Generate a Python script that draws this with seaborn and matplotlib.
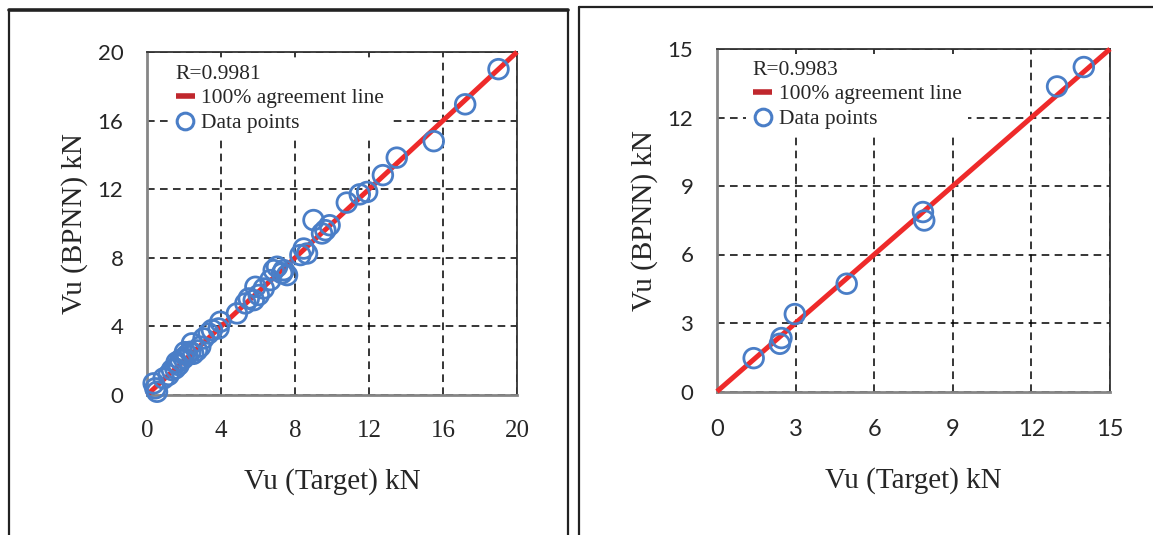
import matplotlib
matplotlib.use("Agg")
import matplotlib.pyplot as plt
import seaborn as sns
import pandas as pd
from matplotlib.lines import Line2D

# ---------------- Data ----------------
left_target = [19.0, 17.2, 15.5, 13.5, 12.75, 11.9, 11.5, 10.8, 9.0, 9.87, 9.64, 9.46,
               8.47, 8.29, 8.65, 7.03, 7.39, 7.57, 7.3, 6.67, 6.85, 6.31, 5.86, 6.04,
               5.77, 5.5, 5.32, 4.86, 3.96, 3.87, 3.51, 3.33, 3.06, 2.88, 2.43, 2.34,
               2.16, 1.98, 1.8, 1.71, 1.53, 1.35, 1.17, 0.9, 0.36, 0.45, 0.54, 2.7,
               2.5, 2.05, 1.6]
left_bpnn = [19.0, 16.95, 14.8, 13.84, 12.82, 11.84, 11.7, 11.22, 10.2, 9.9, 9.61, 9.42,
             8.54, 8.16, 8.25, 7.48, 7.28, 6.99, 7.1, 6.7, 7.28, 6.21, 6.31, 5.83,
             5.53, 5.63, 5.34, 4.76, 4.27, 3.88, 3.79, 3.59, 3.3, 2.82, 3.01, 2.52,
             2.33, 2.14, 2.04, 1.75, 1.55, 1.46, 1.17, 0.97, 0.68, 0.39, 0.19, 2.6,
             2.4, 2.5, 1.9]
left_r = "R=0.9981"
left_ticks = [0, 4, 8, 12, 16, 20]

right_target = [14.0, 12.98, 7.86, 7.91, 4.95, 2.97, 2.46, 2.4, 1.4]
right_bpnn = [14.21, 13.36, 7.86, 7.49, 4.72, 3.39, 2.34, 2.09, 1.46]
right_r = "R=0.9983"
right_ticks = [0, 3, 6, 9, 12, 15]

x_label = "Vu (Target) kN"
y_label = "Vu (BPNN) kN"

# ---------------- Style ----------------
sns.set_style("white")
plt.rcParams['font.family'] = ['Liberation Serif', 'DejaVu Serif']

BLUE = "#4A7EC7"
RED = "#EE2A2A"
DARK_RED = "#C0272D"
GREY = "#868686"

fig = plt.figure(figsize=(11.53, 5.35), dpi=100)

# panel frames (figure fractions)
W, H = 1153.0, 535.0
def fx(px):
    return px / W
def fy(py):
    return 1 - py / H

for xs, ys, lw in [([9, 568], [10, 10], 2.6), ([9, 9], [10, 540], 1.6), ([568, 568], [10, 540], 1.6),
                   ([579, 1160], [7, 7], 1.6), ([579, 579], [7, 540], 1.6)]:
    fig.add_artist(Line2D([fx(v) for v in xs], [fy(v) for v in ys], color="#222222",
                          lw=lw, transform=fig.transFigure))

ax1 = fig.add_axes([fx(147), fy(395), fx(517) - fx(147), fy(52) - fy(395)])
ax2 = fig.add_axes([fx(717), fy(391.5), fx(1110) - fx(717), fy(49) - fy(391.5)])

panels = [
    (ax1, left_target, left_bpnn, left_ticks, left_r, 'serif', (0.06, 0.982)),
    (ax2, right_target, right_bpnn, right_ticks, right_r, 'sans', (0.075, 0.985)),
]

for ax, tx, ty, ticks, rtxt, xfont, anchor in panels:
    df = pd.DataFrame({"target": tx, "bpnn": ty})
    lim = [ticks[0], ticks[-1]]
    ax.plot(lim, lim, color=RED, lw=3.6, solid_capstyle='butt', clip_on=False, zorder=3)
    sns.scatterplot(data=df, x="target", y="bpnn", ax=ax, marker="o", s=200,
                    facecolors="none", edgecolor=BLUE, linewidth=2.0, zorder=4,
                    clip_on=False)
    ax.set_xlim(lim)
    ax.set_ylim(lim)
    ax.set_xticks(ticks)
    ax.set_yticks(ticks)
    ax.grid(True, color="black", linestyle=(0, (5, 3.5)), linewidth=1.1)
    ax.set_axisbelow(True)
    for s in ["left", "bottom"]:
        ax.spines[s].set_color(GREY)
        ax.spines[s].set_linewidth(2.0)
    for s in ["top", "right"]:
        ax.spines[s].set_color("#333333")
        ax.spines[s].set_linewidth(1.3)
    ax.tick_params(axis="both", direction="out", length=5, width=2.0, color=GREY)
    ax.set_yticklabels([str(t) for t in ticks], family=['Lato', 'DejaVu Sans'], fontsize=16)
    if xfont == 'serif':
        ax.set_xticklabels([str(t) for t in ticks], family=['Liberation Serif'], fontsize=18)
        ax.tick_params(axis="x", pad=13)
    else:
        ax.tick_params(axis="x", pad=15)
        ax.set_xticklabels([str(t) for t in ticks], family=['Lato', 'DejaVu Sans'], fontsize=17)
    ax.tick_params(axis="y", pad=12)
    ax.set_xlabel(x_label, fontsize=21, labelpad=19)
    ax.set_ylabel(y_label, fontsize=21, labelpad=7)

    handles = [
        Line2D([], [], color=DARK_RED, lw=4, solid_capstyle='butt'),
        Line2D([], [], color=BLUE, lw=0, marker="o", markersize=12,
               markerfacecolor="none", markeredgewidth=2.2),
    ]
    leg = ax.legend(handles, ["100% agreement line", "Data points"], title=rtxt,
                    alignment="left", loc="upper left", bbox_to_anchor=anchor,
                    fontsize=15.5, title_fontsize=15.5, frameon=True, framealpha=1,
                    facecolor="white", edgecolor="none", handlelength=0.9,
                    handletextpad=0.3, borderpad=0.3, labelspacing=0.22,
                    borderaxespad=0.0, fancybox=False)
    leg.set_zorder(2.5)

fig.savefig("out.png", dpi=100)
